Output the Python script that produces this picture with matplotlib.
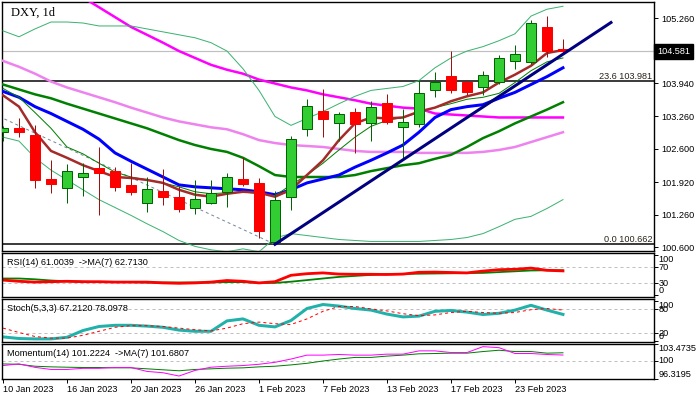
import numpy as np
import matplotlib.pyplot as plt
from matplotlib.patches import Rectangle
import matplotlib.transforms as mtransforms

plt.rcParams['font.family'] = ['Liberation Sans', 'DejaVu Sans']

# ---- data (daily DXY bars, 10 Jan 2023 .. 28 Feb 2023) ----
tick_bars = [0, 4, 8, 12, 16, 20, 24, 28, 32]
tick_labels = ['10 Jan 2023', '16 Jan 2023', '20 Jan 2023', '26 Jan 2023', '1 Feb 2023',
               '7 Feb 2023', '13 Feb 2023', '17 Feb 2023', '23 Feb 2023']

opens = [102.94, 103.02, 102.88, 101.99, 101.81, 102.03, 102.21, 102.15, 101.87, 101.50,
         101.75, 101.63, 101.40, 101.50, 101.72, 101.99, 101.91, 100.71, 101.63, 103.015,
         103.38, 103.12, 103.36, 103.13, 103.54, 103.05, 103.10, 103.79, 104.08, 103.955,
         103.85, 103.955, 104.38, 104.36, 105.08, 104.63]
highs = [103.06, 103.22, 103.08, 102.38, 102.29, 102.31, 102.64, 102.24, 102.31, 102.03,
         102.19, 101.84, 101.96, 101.96, 102.11, 102.43, 102.01, 101.74, 102.86, 103.62,
         103.82, 103.35, 103.43, 103.57, 103.72, 103.42, 104.00, 104.16, 104.59, 104.01,
         104.18, 104.51, 104.72, 105.23, 105.30, 104.83]
lows = [102.76, 102.84, 101.81, 101.71, 101.51, 101.65, 101.25, 101.74, 101.67, 101.31,
        101.47, 101.31, 101.28, 101.49, 101.43, 101.85, 100.80, 100.662, 101.35, 102.87,
        102.85, 102.76, 102.51, 102.76, 103.10, 102.38, 103.05, 103.65, 103.73, 103.70,
        103.69, 103.92, 104.23, 104.33, 104.46, 104.53]
closes = [103.02, 102.95, 101.96, 101.88, 102.15, 102.11, 102.11, 101.82, 101.72, 101.79,
          101.63, 101.38, 101.58, 101.70, 102.03, 101.88, 100.93, 101.57, 102.81, 103.48,
          103.20, 103.32, 103.10, 103.46, 103.15, 103.14, 103.74, 103.955, 103.80, 103.75,
          104.11, 104.45, 104.53, 105.165, 104.59, 104.581]

ma_magenta = [106.71, 106.51, 106.31, 106.11, 105.89, 105.68, 105.48, 105.28, 105.08, 104.92,
              104.76, 104.59, 104.45, 104.31, 104.21, 104.13, 104.01, 103.93, 103.85, 103.79,
              103.71, 103.65, 103.59, 103.52, 103.48, 103.44, 103.42, 103.32, 103.30, 103.28,
              103.26, 103.24, 103.24, 103.24, 103.24, 103.24]
ma_violet = [104.39, 104.27, 104.13, 103.97, 103.85, 103.75, 103.65, 103.55, 103.44, 103.34,
             103.24, 103.16, 103.10, 103.04, 103.00, 102.90, 102.78, 102.72, 102.68, 102.66,
             102.64, 102.60, 102.56, 102.54, 102.54, 102.54, 102.52, 102.52, 102.52, 102.52,
             102.54, 102.58, 102.64, 102.74, 102.84, 102.94]
bb_mid = [103.91, 103.81, 103.71, 103.63, 103.52, 103.42, 103.32, 103.22, 103.12, 103.02,
          102.90, 102.78, 102.68, 102.60, 102.54, 102.42, 102.25, 102.07, 102.03, 102.03,
          102.03, 102.03, 102.07, 102.15, 102.21, 102.27, 102.31, 102.40, 102.48, 102.64,
          102.82, 102.96, 103.12, 103.26, 103.40, 103.55]
bb_upper = [105.00, 104.88, 105.04, 105.18, 105.18, 105.16, 105.10, 105.10, 105.10, 105.04,
            104.98, 104.92, 104.86, 104.76, 104.59, 104.23, 103.79, 103.26, 103.08, 103.22,
            103.36, 103.52, 103.67, 103.79, 103.83, 103.87, 103.99, 104.25, 104.45, 104.59,
            104.68, 104.80, 104.94, 105.30, 105.44, 105.50]
bb_lower = [102.84, 102.76, 102.42, 102.17, 101.97, 101.77, 101.57, 101.41, 101.25, 101.08,
            100.92, 100.74, 100.62, 100.55, 100.51, 100.57, 100.51, 100.79, 100.88, 100.84,
            100.80, 100.76, 100.74, 100.72, 100.72, 100.72, 100.72, 100.74, 100.76, 100.80,
            100.88, 101.02, 101.17, 101.23, 101.39, 101.57]
ma_blue = [103.77, 103.65, 103.46, 103.32, 103.16, 103.00, 102.80, 102.52, 102.35, 102.19,
           102.03, 101.87, 101.83, 101.81, 101.79, 101.77, 101.73, 101.67, 101.77, 101.91,
           101.99, 102.07, 102.23, 102.37, 102.52, 102.68, 102.94, 103.24, 103.40, 103.46,
           103.50, 103.63, 103.75, 103.91, 104.07, 104.25]
ema_brown = [103.69, 103.46, 102.94, 102.56, 102.42, 102.27, 102.15, 102.03, 102.01, 101.97,
             101.91, 101.77, 101.67, 101.63, 101.69, 101.73, 101.71, 101.63, 101.77, 102.07,
             102.37, 102.78, 103.12, 103.24, 103.22, 103.24, 103.36, 103.44, 103.57, 103.67,
             103.75, 103.95, 104.11, 104.29, 104.55, 104.61]
ma_thin = [103.83, 103.65, 103.34, 103.02, 102.64, 102.50, 102.31, 102.13, 102.03, 101.97,
           101.91, 101.83, 101.73, 101.69, 101.71, 101.73, 101.69, 101.65, 101.87, 102.07,
           102.31, 102.58, 102.84, 103.06, 103.18, 103.24, 103.34, 103.44, 103.52, 103.61,
           103.65, 103.73, 103.95, 104.19, 104.37, 104.45]

rsi = [38, 35, 33, 34, 35, 34, 34, 33, 33, 33, 31, 30, 31, 33, 37, 35, 31, 34, 50, 54,
       56, 53, 52.5, 52.5, 52, 53, 57.5, 58, 57, 56, 60.5, 64, 65, 68, 62.5, 61.0]
rsi_ma = [42, 42, 40, 37, 35, 34, 33, 33, 33, 32, 32, 32, 32, 32, 33, 33, 31, 31, 34, 38,
          42, 46, 48.5, 51, 53, 53.5, 54, 54.5, 55, 55.5, 56, 58, 60, 62, 62.5, 62.7]
stoch_k = [11, 7, 6, 6, 10, 27, 37, 40, 40, 38, 35, 28, 25, 25, 51, 56, 40, 36, 52, 82,
           92, 88, 82, 78, 68, 61, 63, 75, 77, 73, 67, 70, 78, 90, 78, 67.2]
stoch_d = [33, 22, 12, 8, 8, 15, 25, 35, 39, 39, 37, 33, 29, 26, 33, 44, 48, 44, 42, 56,
           75, 87, 87, 81, 76, 69, 64, 66, 72, 75, 72, 70, 72, 79, 82, 78.1]
momentum = [99.07, 99.4, 98.7, 98.27, 98.27, 98.5, 98.5, 98.67, 98.67, 97.87, 97.6, 96.93,
            98.07, 98.73, 98.93, 99.07, 99.33, 99.73, 100.4, 101.2, 101.2, 101.33, 101.2,
            101.2, 101.4, 101.4, 102.07, 102.07, 101.73, 101.73, 102.93, 102.73, 101.53,
            101.53, 101.33, 101.22]
momentum_ma = [99.4, 99.33, 98.93, 98.8, 98.73, 98.67, 98.67, 98.6, 98.6, 98.4, 98.2, 98.0,
               98.27, 98.4, 98.53, 98.6, 98.8, 98.93, 99.2, 99.53, 100.0, 100.4, 100.73,
               100.73, 101.0, 101.2, 101.47, 101.53, 101.6, 101.6, 101.93, 102.2, 101.93,
               101.93, 101.6, 101.68]

fib_levels = [('0.0', 100.662), ('23.6', 103.981)]
fib_diag_x, fib_diag_y = [-10, 17], [104.73, 100.662]
trend_x, trend_y = [17, 38], [100.662, 105.17]
last_price = 104.581
price_ticks = [105.26, 103.94, 103.26, 102.60, 101.92, 101.26, 100.60]

# ---- layout (pixel based) ----
W, H = 698, 398
fig = plt.figure(figsize=(W / 100, H / 100), dpi=100)
fig.patch.set_facecolor('white')
LEFT, RIGHT = 1.5, 654
FS = 6.6


def panel(top, bottom):
    a = fig.add_axes([LEFT / W, 1 - bottom / H, (RIGHT - LEFT) / W, (bottom - top) / H])
    for s in a.spines.values():
        s.set_color('black')
        s.set_linewidth(1.0)
    a.set_xlim(-0.094, 40.69)
    a.tick_params(axis='x', bottom=False, labelbottom=False)
    a.yaxis.tick_right()
    a.tick_params(axis='y', length=3, width=0.7, pad=2, labelsize=FS, colors='black')
    return a


ax = panel(2, 251)
ax_rsi = panel(253, 297)
ax_st = panel(299, 342)
ax_mom = panel(344, 379)

x = np.arange(len(closes))
px = 0.72  # 1 pixel in points

# ---- main chart ----
ax.set_ylim(100.526, 105.587)
ax.set_yticks(price_ticks)
ax.set_yticklabels(['%.3f' % v for v in price_ticks])

ax.axhline(last_price, color='#C0C0C0', lw=1.2 * px, zorder=1)
for name, lvl in fib_levels:
    ax.axhline(lvl, color='black', lw=1.5 * px, zorder=2)
    ax.text(0.997, lvl, '%s %.3f' % (name, lvl),
            transform=mtransforms.blended_transform_factory(ax.transAxes, ax.transData),
            ha='right', va='bottom', fontsize=FS, color='#2a2418')
ax.plot(fib_diag_x, fib_diag_y, color='#778899', lw=1 * px, ls=(0, (3, 3)), zorder=2)

ax.plot(x, ma_violet, color='#EE82EE', lw=2.5 * px, zorder=3)
ax.plot(x, ma_magenta, color='#FF00FF', lw=2.5 * px, zorder=3)
ax.plot(x, bb_upper, color='#3CB371', lw=1 * px, zorder=3)
ax.plot(x, bb_lower, color='#3CB371', lw=1 * px, zorder=3)
ax.plot(x, bb_mid, color='#008000', lw=2.5 * px, zorder=3)
ax.plot(x, ma_blue, color='#0000FF', lw=3 * px, zorder=3)
ax.plot(x, ma_thin, color='#008000', lw=1 * px, zorder=3)
ax.plot(x, ema_brown, color='#A52A2A', lw=2.5 * px, zorder=3)

for i in range(len(closes)):
    o, h, l, c = opens[i], highs[i], lows[i], closes[i]
    up = c >= o
    wick = '#006400' if up else '#A01010'
    ax.vlines(i, l, h, color=wick, lw=1 * px, zorder=4)
    ax.add_patch(Rectangle((i - 0.31, min(o, c)), 0.62, max(abs(c - o), 0.01),
                           facecolor='#32CD32' if up else '#FF0000',
                           edgecolor='#006400' if up else '#FF0000', lw=1 * px, zorder=5))

ax.plot(trend_x, trend_y, color='#000080', lw=3 * px, zorder=6)

ax.text(1.0046, last_price, '%.3f' % last_price,
        transform=mtransforms.blended_transform_factory(ax.transAxes, ax.transData),
        ha='left', va='center', fontsize=FS, color='white',
        bbox=dict(boxstyle='square,pad=0.3', fc='black', ec='black'))
ax.text(0.014, 0.955, 'DXY, 1d', transform=ax.transAxes, ha='left', va='center',
        fontsize=9, family='Liberation Serif', color='black')


def side_labels(a, items):
    tr = mtransforms.blended_transform_factory(a.transAxes, a.transData)
    a.set_yticks([v for v, _ in items])
    a.set_yticklabels([])
    for v, va in items:
        a.text(1.0065, v, ('%g' % v) if v in (0, 20, 30, 70, 80, 100) else '%.4f' % v,
               transform=tr, ha='left', va=va, fontsize=FS, color='black', clip_on=False)


# ---- RSI ----
ax_rsi.set_ylim(-4.25, 105.75)
for lv in (70, 30):
    ax_rsi.axhline(lv, color='#C0C0C0', lw=1 * px, ls=(0, (3, 3)))
ax_rsi.plot(x, rsi_ma, color='#008000', lw=1.8 * px)
ax_rsi.plot(x, rsi, color='#FF0000', lw=2.8 * px)
side_labels(ax_rsi, [(100, 'top'), (70, 'center'), (30, 'center'), (0, 'bottom')])
ax_rsi.text(0.009, 0.78, 'RSI(14) 61.0039  ->MA(7) 62.7130', transform=ax_rsi.transAxes,
            fontsize=FS, va='center', ha='left')

# ---- Stochastic ----
ax_st.set_ylim(-1.75, 105.75)
for lv in (80, 20):
    ax_st.axhline(lv, color='#C0C0C0', lw=1 * px, ls=(0, (3, 3)))
ax_st.plot(x, stoch_k, color='#20B2AA', lw=3 * px)
ax_st.plot(x, stoch_d, color='#FF0000', lw=1 * px, ls=(0, (3, 3)))
side_labels(ax_st, [(100, 'top'), (80, 'center'), (20, 'center'), (0, 'bottom')])
ax_st.text(0.009, 0.77, 'Stoch(5,3,3) 67.2120 78.0978', transform=ax_st.transAxes,
           fontsize=FS, va='center', ha='left')

# ---- Momentum ----
ax_mom.set_ylim(96.3195, 103.4735)
ax_mom.axhline(100, color='#C0C0C0', lw=1 * px, ls=(0, (3, 3)))
ax_mom.plot(x, momentum_ma, color='#008000', lw=1 * px)
ax_mom.plot(x, momentum, color='#FF00FF', lw=1 * px)
side_labels(ax_mom, [(103.4735, 'top'), (100, 'center'), (96.3195, 'bottom')])
ax_mom.text(0.009, 0.74, 'Momentum(14) 101.2224  ->MA(7) 101.6807', transform=ax_mom.transAxes,
            fontsize=FS, va='center', ha='left')

ax_mom.set_xticks(tick_bars)
ax_mom.set_xticklabels(tick_labels)
ax_mom.tick_params(axis='x', bottom=True, labelbottom=True, length=3, width=0.7, pad=1.5,
                   labelsize=FS)
for lbl in ax_mom.get_xticklabels():
    lbl.set_ha('left')

fig.savefig('out.png', dpi=100, facecolor='white')
